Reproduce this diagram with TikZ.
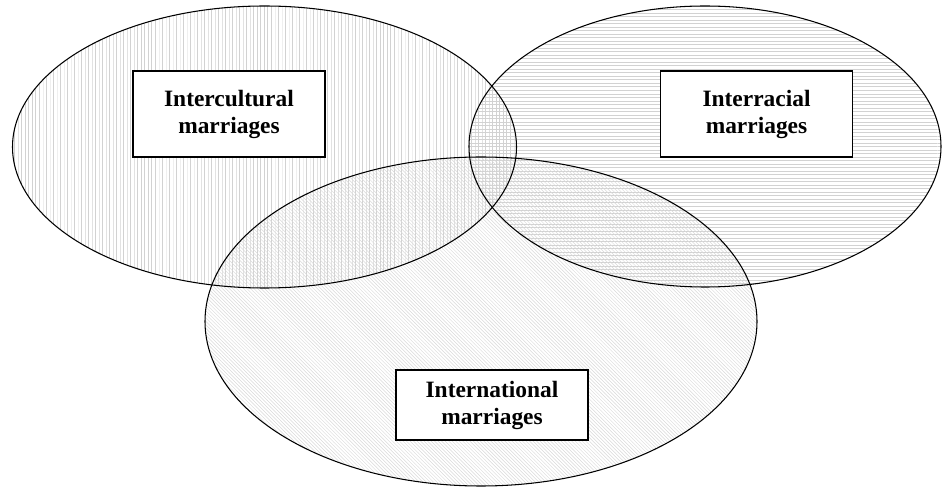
\documentclass[tikz,border=0pt]{standalone}
\usepackage{fontspec}
\setmainfont{Liberation Serif}
\usetikzlibrary{patterns}
\tikzset{
  setline/.style={line width=0.9pt},
  labelbox/.style={draw, line width=1.4pt, fill=white, align=center,
    font=\bfseries\fontsize{20}{23}\selectfont, minimum width=5.76cm}
}
\begin{document}
\begin{tikzpicture}[x=0.03cm, y=-0.03cm]
  \useasboundingbox (0,0) rectangle (942,488);
  % the three sets
  \fill[pattern=vertical lines, pattern color=gray!35] (264.5,147) ellipse (252 and 141);
  \fill[pattern=horizontal lines, pattern color=gray!35] (705,146.5) ellipse (236 and 140.5);
  \fill[pattern=north west lines, pattern color=gray!30] (481,321.5) ellipse (276 and 164.5);
  \draw[setline] (264.5,147) ellipse (252 and 141);
  \draw[setline] (705,146.5) ellipse (236 and 140.5);
  \draw[setline] (481,321.5) ellipse (276 and 164.5);
  % labels
  \node[labelbox, minimum height=2.58cm] (cultural) at (229,114) {Intercultural\\marriages};
  \node[labelbox, minimum height=2.58cm] (racial) at (756.5,114) {Interracial\\marriages};
  \node[labelbox, minimum height=2.1cm] (national) at (492,405) {International\\marriages};
\end{tikzpicture}
\end{document}
